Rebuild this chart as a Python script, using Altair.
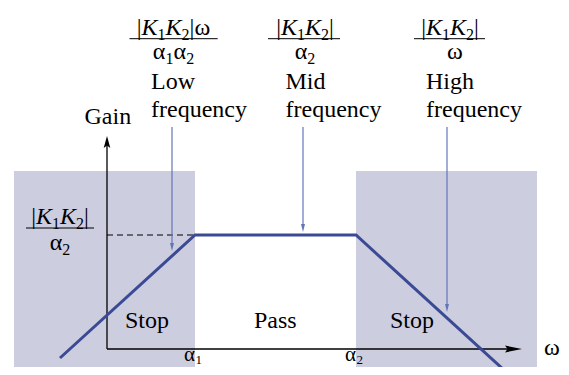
import altair as alt
import pandas as pd

# ---------------- data (diagram units: origin at the axes' crossing) ----------------
omega_breaks = [-47, 88, 249, 397]      # start, α1, α2, end of the gain curve
gain_breaks = [-9, 114, 114, -21]       # gain at those frequencies
alpha_ticks = [88, 249]                 # α1, α2
alpha_subs = ["1", "2"]
pass_gain = 114                         # |K1K2| / α2
stop_from = [-93, 249]
stop_to = [88, 430]
band_labels = ["Stop", "Pass", "Stop"]
region_names = ["Low", "Mid", "High"]
arrow_omega = [65, 196, 340]            # where each annotation points
arrow_tip_gain = [98, 117, 37]

# ---------------- layout helpers (page pixels -> diagram units) ----------------
OX, OY = 107, 349
def X(px):
    return px - OX
def Y(py):
    return OY - py

FONT = "Liberation Serif"
F = 24
SUB = 16
EM = {"|": 0.2, "K": 0.667, "1": 0.5, "2": 0.5, "ω": 0.66, "α": 0.53}

normal_rows, italic_rows = [], []

def add(px, py, txt, size=F, italic=False):
    (italic_rows if italic else normal_rows).append(
        {"x": X(px), "y": Y(py), "t": txt, "s": size})

def formula(pieces, center, base):
    items = []
    for p in pieces:
        kind = "s" if p in "12" else ("i" if p == "K" else "n")
        size = SUB if kind == "s" else F
        items.append((p, kind, size, EM[p] * size))
    total = sum(w for *_, w in items)
    x = center - total / 2
    for p, kind, size, w in items:
        add(x, base + (5 if kind == "s" else 0), p, size, kind == "i")
        x += w

KK = ["|", "K", "1", "K", "2", "|"]

# top fractions
formula(KK + ["ω"], 173.5, 35)
formula(["α", "1", "α", "2"], 173.5, 59)
formula(KK, 305, 35)
formula(["α", "2"], 305, 59)
formula(KK, 450, 35)
formula(["ω"], 455, 59)
# left fraction
formula(KK, 60, 224)
formula(["α", "2"], 60, 250)

# words
for name, px in zip(region_names, [151, 285.5, 426]):
    add(px, 89, name)
    add(px, 117, "frequency")
add(84.5, 124, "Gain")
for lab, px in zip(band_labels, [125, 254, 390]):
    add(px, 328, lab)
add(544, 355, "ω")
for tick, sub in zip(alpha_ticks, alpha_subs):
    add(tick + OX - 11, 361, "α", 21)
    add(tick + OX + 0.5, 363.5, sub, 13)

frac_bars = pd.DataFrame({
    "x": [X(129.5), X(268), X(414), X(26)],
    "x2": [X(217.7), X(340), X(485), X(94)],
    "y": [Y(38.7), Y(38.7), Y(38.7), Y(228)],
})

# chart area covers page pixels 8..561 (x) and 8..367 (y)
xs = alt.Scale(domain=[X(8), X(561)], nice=False, zero=False)
ys = alt.Scale(domain=[Y(367), Y(8)], nice=False, zero=False)

def enc(**kw):
    out = {}
    for k, v in kw.items():
        if k.startswith("x"):
            out[k] = alt.X(v, scale=xs, axis=None) if k == "x" else alt.X2(v)
        else:
            out[k] = alt.Y(v, scale=ys, axis=None) if k == "y" else alt.Y2(v)
    return out

SHADE = "#cdcde0"
CURVE = "#3b4a94"
ARROW = "#6476b8"

shade = alt.Chart(pd.DataFrame({"a": stop_from, "b": stop_to,
                                "lo": [Y(367)] * 2, "hi": [178, 178]})).mark_rect(
    color=SHADE).encode(**enc(x="a:Q", x2="b:Q", y="lo:Q", y2="hi:Q"))

dashed = alt.Chart(pd.DataFrame({"a": [0], "b": [alpha_ticks[0]], "g": [pass_gain]})).mark_rule(
    color="black", strokeDash=[6, 4], strokeWidth=1.2).encode(**enc(x="a:Q", x2="b:Q", y="g:Q"))

axes = alt.Chart(pd.DataFrame({
    "a": [0, 0], "b": [0, 407], "c": [0, 0], "d": [207, 0]})).mark_rule(
    color="black", strokeWidth=1.3).encode(**enc(x="a:Q", x2="b:Q", y="c:Q", y2="d:Q"))

xhead = alt.Chart(pd.DataFrame({"a": [406.5], "b": [0]})).mark_point(
    shape="M-1,-0.4L1,0L-1,0.4L-0.7,0Z", filled=True, size=289, color="black",
    opacity=1, strokeWidth=0).encode(**enc(x="a:Q", y="b:Q"))
yhead = alt.Chart(pd.DataFrame({"a": [0], "b": [207]})).mark_point(
    shape="M-0.55,1L0,-1L0.55,1L0,0.6Z", filled=True, size=144, color="black",
    opacity=1, strokeWidth=0).encode(**enc(x="a:Q", y="b:Q"))

curve = alt.Chart(pd.DataFrame({"w": omega_breaks, "g": gain_breaks, "i": range(4)})).mark_line(
    color=CURVE, strokeWidth=3).encode(order="i:Q", **enc(x="w:Q", y="g:Q"))

arr_df = pd.DataFrame({"w": arrow_omega, "tip": arrow_tip_gain,
                       "top": [Y(127)] * 3,
                       "hc": [t + 4 for t in arrow_tip_gain]})
arr_lines = alt.Chart(arr_df).mark_rule(color=ARROW, strokeWidth=1.2).encode(
    **enc(x="w:Q", y="top:Q", y2="hc:Q"))
arr_heads = alt.Chart(arr_df).mark_point(
    shape="M-0.5,-1L0.5,-1L0,1Z", filled=True, size=64, color=ARROW,
    opacity=1, strokeWidth=0).encode(**enc(x="w:Q", y="hc:Q"))

bars = alt.Chart(frac_bars).mark_rule(color="black", strokeWidth=1).encode(
    **enc(x="x:Q", x2="x2:Q", y="y:Q"))

txt_n = alt.Chart(pd.DataFrame(normal_rows)).mark_text(
    font=FONT, align="left", baseline="alphabetic", color="black").encode(
    text="t:N", size=alt.Size("s:Q", scale=None, legend=None), **enc(x="x:Q", y="y:Q"))
txt_i = alt.Chart(pd.DataFrame(italic_rows)).mark_text(
    font=FONT, fontStyle="italic", align="left", baseline="alphabetic", color="black").encode(
    text="t:N", size=alt.Size("s:Q", scale=None, legend=None), **enc(x="x:Q", y="y:Q"))

chart = alt.layer(shade, dashed, axes, xhead, yhead, curve, arr_lines, arr_heads,
                  bars, txt_n, txt_i).properties(
    width=553, height=359, autosize=alt.AutoSizeParams(type="none"), padding=0
).configure_view(stroke=None)

chart.save("out.html", embed_options={"renderer": "svg", "actions": False})
